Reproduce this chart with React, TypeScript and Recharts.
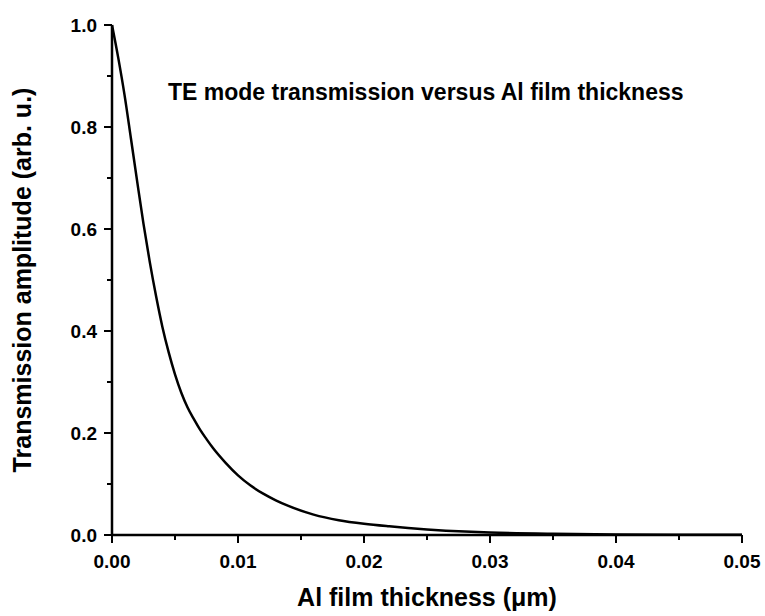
import React from 'react';
import { LineChart, Line, XAxis, YAxis } from 'recharts';

// thickness in micrometres
const thickness = [0, 0.0005, 0.001, 0.0015, 0.002, 0.0025, 0.003, 0.0035, 0.004, 0.0045, 0.005, 0.0055, 0.006, 0.0065, 0.007, 0.0075, 0.008, 0.009, 0.01, 0.011, 0.012, 0.013, 0.014, 0.016, 0.018, 0.02, 0.022, 0.025, 0.028, 0.03, 0.035, 0.04, 0.045, 0.05];
const amplitude = [1.0, 0.935, 0.862, 0.778, 0.693, 0.61, 0.535, 0.468, 0.408, 0.358, 0.315, 0.279, 0.25, 0.227, 0.206, 0.188, 0.171, 0.142, 0.117, 0.097, 0.081, 0.068, 0.057, 0.04, 0.029, 0.022, 0.017, 0.011, 0.0068, 0.005, 0.0025, 0.0012, 0.0006, 0.0003];

const xTicks = [0, 0.005, 0.01, 0.015, 0.02, 0.025, 0.03, 0.035, 0.04, 0.045, 0.05];
const yTicks = [0, 0.1, 0.2, 0.3, 0.4, 0.5, 0.6, 0.7, 0.8, 0.9, 1.0];

const title = 'TE mode transmission versus Al film thickness';
const xLabel = 'Al film thickness (\u03bcm)';
const yLabel = 'Transmission amplitude (arb. u.)';

const FONT = '"Liberation Sans", Arial, Helvetica, sans-serif';
const TICK = 5; // minor tick length, majors get a few px more

const data = thickness.map((x, i) => ({ x, y: amplitude[i] }));

const isMajor = (v: number, step: number) => Math.abs(v / step - Math.round(v / step)) < 1e-6;

// tickMargin is 0, so x/y handed to the tick sit at the end of the tick line
const XTick = (props: any) => {
  const { x, y, payload } = props;
  if (!isMajor(payload.value, 0.01)) return <g />;
  return (
    <g>
      <line x1={x} x2={x} y1={y - 1} y2={y + 3} stroke="#000" strokeWidth={2} />
      <text x={x} y={y + 28} textAnchor="middle" fontFamily={FONT} fontWeight="bold" fontSize={19} fill="#000" stroke="none">
        {payload.value.toFixed(2)}
      </text>
    </g>
  );
};

const YTick = (props: any) => {
  const { x, y, payload } = props;
  if (!isMajor(payload.value, 0.2)) return <g />;
  return (
    <g>
      <line x1={x + 1} x2={x - 3} y1={y} y2={y} stroke="#000" strokeWidth={2} />
      <text x={x - 10} y={y} dy="0.36em" textAnchor="end" fontFamily={FONT} fontWeight="bold" fontSize={19} fill="#000" stroke="none">
        {payload.value.toFixed(1)}
      </text>
    </g>
  );
};

export default function App() {
  return (
    <div style={{ position: 'absolute', left: 0, top: 0, width: 765, height: 616, background: '#fff' }}>
      <LineChart width={765} height={616} data={data} margin={{ top: 25, right: 23, left: 0, bottom: 0 }}>
        <XAxis
          dataKey="x"
          type="number"
          domain={[0, 0.05]}
          ticks={xTicks}
          interval={0}
          height={81}
          tickSize={TICK}
          tickMargin={0}
          tickLine={{ stroke: '#000', strokeWidth: 2 }}
          tick={<XTick />}
          axisLine={{ stroke: '#000', strokeWidth: 2.5 }}
          label={{ value: xLabel, position: 'insideBottom', offset: 10, style: { fontFamily: FONT, fontWeight: 'bold', fontSize: 25, fill: '#000' } }}
        />
        <XAxis xAxisId="top" orientation="top" type="number" domain={[0, 0.05]} height={0} tick={false} tickLine={false} axisLine={{ stroke: '#000', strokeWidth: 2 }} />
        <YAxis
          type="number"
          domain={[0, 1]}
          ticks={yTicks}
          interval={0}
          width={112}
          tickSize={TICK}
          tickMargin={0}
          tickLine={{ stroke: '#000', strokeWidth: 2 }}
          tick={<YTick />}
          axisLine={{ stroke: '#000', strokeWidth: 2.5 }}
          label={{ value: yLabel, angle: -90, position: 'insideLeft', offset: 22, style: { textAnchor: 'middle', fontFamily: FONT, fontWeight: 'bold', fontSize: 25, fill: '#000' } }}
        />
        <YAxis yAxisId="right" orientation="right" type="number" domain={[0, 1]} width={0} tick={false} tickLine={false} axisLine={{ stroke: '#000', strokeWidth: 2 }} />
        <Line type="monotone" dataKey="y" stroke="#000" strokeWidth={2.5} dot={false} isAnimationActive={false} />
      </LineChart>
      <div style={{ position: 'absolute', left: 168, top: 81, whiteSpace: 'nowrap', fontFamily: FONT, fontWeight: 'bold', fontSize: 23, lineHeight: '23px', color: '#000' }}>
        {title}
      </div>
    </div>
  );
}
